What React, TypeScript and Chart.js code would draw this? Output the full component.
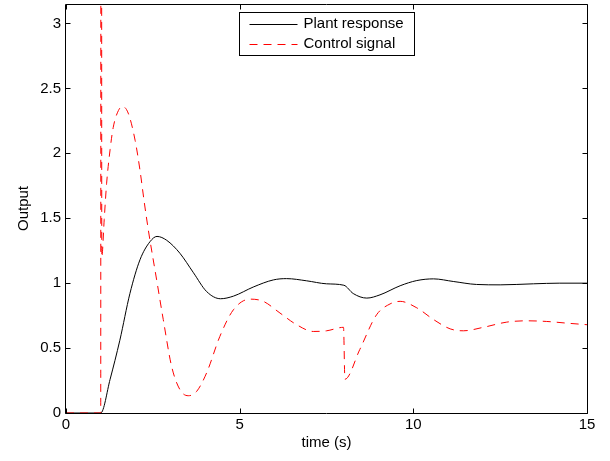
import React, { useEffect, useRef } from 'react';
import { Chart, registerables } from 'chart.js';

Chart.register(...registerables);

const plantTime = [0, 1.0, 1.27, 1.55, 1.84, 2.13, 2.42, 2.62, 2.9, 3.28, 3.67, 4.05, 4.45, 4.82, 5.39, 5.97, 6.35, 6.93, 7.5, 8.0, 8.27, 8.66, 9.04, 9.62, 10.1, 10.58, 11.15, 11.82, 12.5, 13.46, 14.2, 15];
const plantValues = [0, 0, 0.26, 0.56, 0.92, 1.18, 1.32, 1.36, 1.33, 1.23, 1.08, 0.935, 0.88, 0.9, 0.97, 1.025, 1.035, 1.018, 0.995, 0.984, 0.92, 0.885, 0.91, 0.98, 1.02, 1.033, 1.013, 0.99, 0.987, 0.995, 1.0, 1.0];

const controlTime = [0, 1.0, 1.01, 1.03, 1.1, 1.17, 1.27, 1.36, 1.51, 1.63, 1.79, 1.99, 2.13, 2.25, 2.37, 2.61, 2.8, 3.04, 3.28, 3.52, 3.76, 4.05, 4.43, 4.82, 5.3, 5.68, 6.16, 6.64, 7.12, 7.5, 7.99, 8.03, 8.46, 8.94, 9.33, 9.62, 10.1, 10.58, 11.06, 11.44, 12.02, 12.69, 13.27, 13.84, 14.42, 15];
const controlValues = [0, 0, 30, 1.2, 1.49, 1.77, 2.03, 2.2, 2.33, 2.36, 2.31, 2.1, 1.87, 1.63, 1.41, 1.025, 0.72, 0.36, 0.18, 0.133, 0.166, 0.31, 0.59, 0.795, 0.877, 0.86, 0.77, 0.68, 0.628, 0.633, 0.66, 0.26, 0.49, 0.756, 0.84, 0.86, 0.81, 0.72, 0.648, 0.633, 0.66, 0.7, 0.71, 0.705, 0.692, 0.68];

const xTicks = [0, 5, 10, 15];
const yTicks = [0, 0.5, 1, 1.5, 2, 2.5, 3];
const seriesLabels = ['Plant response', 'Control signal'];
const xTitle = 'time (s)';
const yTitle = 'Output';

const FONT = '"Liberation Sans", Arial, Helvetica, sans-serif';

const framePlugin = {
  id: 'frame',
  afterDatasetsDraw(chart: any) {
    const { ctx, chartArea: a, scales } = chart;
    const L = Math.round(a.left) - 0.5;
    const R = Math.round(a.right) + 0.5;
    const T = Math.round(a.top) + 0.5;
    const B = Math.round(a.bottom) + 0.5;
    const tl = 5;
    ctx.save();
    ctx.strokeStyle = '#000';
    ctx.lineWidth = 1;
    ctx.setLineDash([]);
    ctx.beginPath();
    ctx.rect(L, T, R - L, B - T);
    for (const v of xTicks) {
      const px = Math.round(scales.x.getPixelForValue(v)) + 0.5;
      ctx.moveTo(px, B);
      ctx.lineTo(px, B - tl);
      ctx.moveTo(px, T);
      ctx.lineTo(px, T + tl);
    }
    for (const v of yTicks) {
      const py = Math.round(scales.y.getPixelForValue(v)) + 0.5;
      ctx.moveTo(L, py);
      ctx.lineTo(L + tl, py);
      ctx.moveTo(R, py);
      ctx.lineTo(R - tl, py);
    }
    ctx.stroke();
    ctx.restore();
  },
};

const legendPlugin = {
  id: 'boxLegend',
  afterDraw(chart: any) {
    const { ctx, chartArea: a } = chart;
    ctx.save();
    ctx.font = `15px ${FONT}`;
    const tw = Math.max(...seriesLabels.map((s) => ctx.measureText(s).width));
    const padL = 10, lineLen = 48, gap = 6, padR = 11;
    const w = Math.round(padL + lineLen + gap + tw + padR);
    const h = 43;
    const cx = (a.left + a.right) / 2;
    const x0 = Math.round(cx - w / 2) + 0.5;
    const y0 = Math.round(a.top + 8) + 0.5;
    ctx.fillStyle = '#fff';
    ctx.fillRect(x0, y0, w, h);
    ctx.strokeStyle = '#000';
    ctx.lineWidth = 1;
    ctx.setLineDash([]);
    ctx.strokeRect(x0, y0, w, h);
    const rows = [y0 + 11.5, y0 + 31];
    chart.data.datasets.forEach((ds: any, i: number) => {
      const y = Math.round(rows[i]) + 0.5;
      ctx.beginPath();
      ctx.strokeStyle = ds.borderColor;
      ctx.lineWidth = ds.borderWidth;
      ctx.setLineDash(ds.borderDash || []);
      ctx.moveTo(x0 + padL, y);
      ctx.lineTo(x0 + padL + lineLen, y);
      ctx.stroke();
      ctx.setLineDash([]);
      ctx.fillStyle = '#000';
      ctx.textBaseline = 'middle';
      ctx.textAlign = 'left';
      ctx.fillText(ds.label, x0 + padL + lineLen + gap, rows[i]);
    });
    ctx.restore();
  },
};

export default function App() {
  const canvasRef = useRef<HTMLCanvasElement | null>(null);

  useEffect(() => {
    if (!canvasRef.current) return;
    Chart.defaults.font.family = FONT;
    Chart.defaults.font.size = 15;
    Chart.defaults.color = '#000';

    const plantData = plantTime.map((t, i) => ({ x: t, y: plantValues[i] }));
    const controlData = controlTime.map((t, i) => ({ x: t, y: controlValues[i] }));

    const chart = new Chart(canvasRef.current, {
      type: 'line',
      data: {
        datasets: [
          {
            label: seriesLabels[0],
            data: plantData,
            borderColor: '#000000',
            borderWidth: 1,
            pointRadius: 0,
            fill: false,
            cubicInterpolationMode: 'monotone',
            order: 1,
          },
          {
            label: seriesLabels[1],
            data: controlData,
            borderColor: '#ff0000',
            borderWidth: 1,
            borderDash: [8, 6],
            pointRadius: 0,
            fill: false,
            cubicInterpolationMode: 'monotone',
            order: 0,
          },
        ],
      },
      options: {
        animation: false,
        responsive: true,
        maintainAspectRatio: false,
        events: [],
        layout: { padding: { left: 0, top: 4, right: 23, bottom: 0 } },
        plugins: {
          legend: { display: false },
          tooltip: { enabled: false },
        },
        scales: {
          x: {
            type: 'linear',
            min: 0,
            max: 15,
            grid: { display: false, drawTicks: false },
            border: { display: false },
            ticks: { padding: 3, maxRotation: 0, font: { size: 15 }, callback: (v: any) => String(v) },
            afterBuildTicks: (scale: any) => {
              scale.ticks = xTicks.map((v) => ({ value: v }));
            },
            afterFit: (scale: any) => {
              scale.height = 48;
              scale.paddingLeft = 0;
              scale.paddingRight = 0;
            },
            title: { display: true, text: xTitle, font: { size: 15 }, padding: { top: 0, bottom: 9 } },
          },
          y: {
            type: 'linear',
            min: 0,
            max: 3.15,
            grid: { display: false, drawTicks: false },
            border: { display: false },
            ticks: { padding: 5, font: { size: 15 }, callback: (v: any) => String(v) },
            afterBuildTicks: (scale: any) => {
              scale.ticks = yTicks.map((v) => ({ value: v }));
            },
            afterFit: (scale: any) => {
              scale.width = 66;
              scale.paddingTop = 0;
              scale.paddingBottom = 0;
            },
            title: { display: true, text: yTitle, font: { size: 15 }, padding: { top: 15, bottom: 0 } },
          },
        },
      },
      plugins: [framePlugin, legendPlugin],
    } as any);

    return () => chart.destroy();
  }, []);

  return (
    <div style={{ position: 'fixed', left: 0, top: 0, width: 610, height: 461, background: '#fff' }}>
      <canvas ref={canvasRef} />
    </div>
  );
}
